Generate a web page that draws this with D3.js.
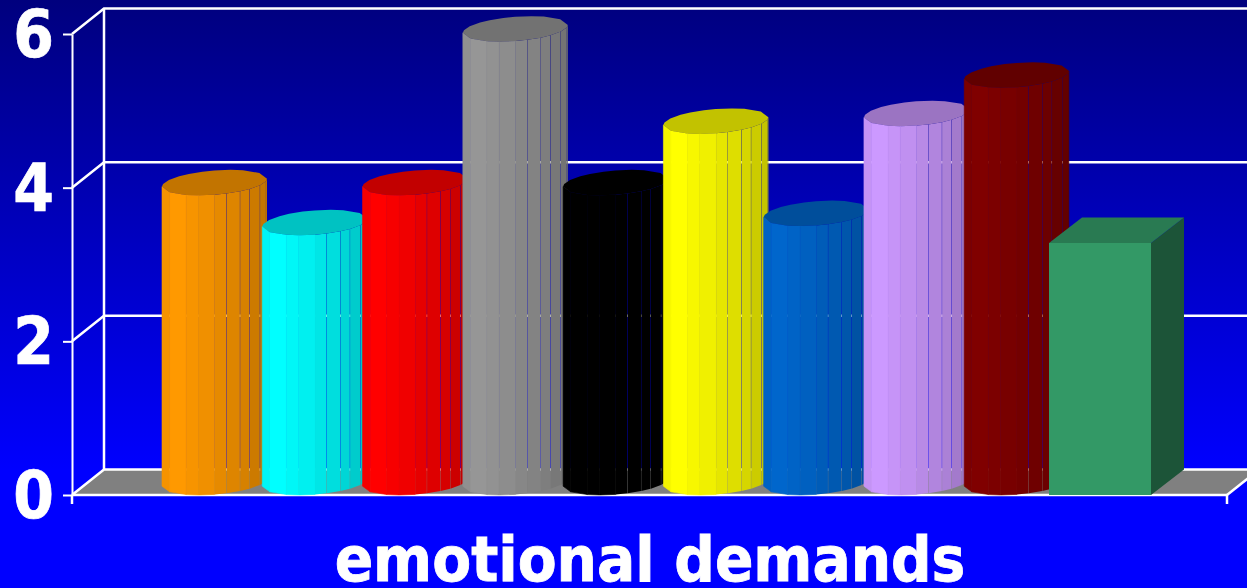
<!DOCTYPE html>
<html><head><meta charset="utf-8">
<script src="https://cdn.jsdelivr.net/npm/d3@7"></script>
<style>html,body{margin:0;padding:0;background:#00f;overflow:hidden}svg{display:block}</style>
</head><body><svg id="c" width="1247" height="588"></svg>
<script>
const categories = ["1","2","3","4","5","6","7","8","9","10"];
const values = [3.9,3.38,3.9,5.9,3.9,4.7,3.5,4.8,5.3,3.28];
const colors = ["#FF9900","#00FFFF","#FF0000","#969696","#000000","#FFFF00","#0066CC","#CC99FF","#800000","#339966"];
const shapes = ["cyl","cyl","cyl","cyl","cyl","cyl","cyl","cyl","cyl","box"];
const yTicks = [0,2,4,6];
const titleText = "emotional demands";

const W=1247,H=588, dx=32, dy=-25.5;
const FONT="'DejaVu Sans Condensed','DejaVu Sans'";
const svg=d3.select("#c");
const y=d3.scaleLinear().domain([0,6]).range([495,34]);
const x=d3.scalePoint().domain(categories).range([214.5,1117]);
const defs=svg.append("defs");
const g=defs.append("linearGradient").attr("id","bg").attr("x1",0).attr("y1",0).attr("x2",0).attr("y2",1);
g.append("stop").attr("offset",0).attr("stop-color","#00007E");
g.append("stop").attr("offset",.8).attr("stop-color","#0000FF");
svg.append("rect").attr("width",W).attr("height",H).attr("fill","url(#bg)");

const XL=72,XR=1227;
const line=d3.line();
svg.append("path").attr("d",line([[XL,y(0)],[XL+dx,y(0)+dy],[XR+dx,y(0)+dy],[XR,y(0)]])+"Z").attr("fill","#808080");

const grid=svg.append("g").attr("fill","none").attr("stroke","#fff").attr("stroke-width",2.5);
yTicks.forEach(t=>{
  grid.append("path").attr("d",line([[XL,y(t)],[XL+dx,y(t)+dy],[W+2,y(t)+dy]]));
});
grid.append("path").attr("d",line([[XL+dx,y(6)+dy],[XL+dx,y(0)+dy]]));
grid.append("path").attr("d",line([[XL,y(0)],[XR,y(0)]]));
grid.append("path").attr("d",line([[XR,y(0)],[XR+dx,y(0)+dy]]));
grid.append("path").attr("d",line([[XR,y(0)],[XR,y(0)+9]]));
grid.append("path").attr("d",line([[XL,y(0)],[XL,y(0)+9]]));

const axis=d3.axisLeft(y).tickValues(yTicks).tickSize(9).tickSizeOuter(0).tickPadding(9).tickFormat(d3.format("d"));
const ax=svg.append("g").attr("transform",`translate(${XL},0)`).call(axis);
ax.select(".domain").attr("stroke","#fff").attr("stroke-width",2);
ax.selectAll(".tick line").attr("stroke","#fff").attr("stroke-width",2);
ax.selectAll(".tick text").attr("fill","#fff").attr("dy","0.345em").attr("stroke","#fff").attr("stroke-width",.7)
  .style("font-family",FONT).style("font-weight","bold").style("font-size","65px");

const a=50, b=dx/2, c=-dy/2;
const angles=[-162,-131,-105,-90,-72,-59,-43,-30,-12,6,18];
const shades=[.96,1,.97,.94,.9,.87,.84,.8,.77,.73];
const topAngles=angles.concat(angles.slice(1,-1).map(t=>t+180));
function pt(cx,cy,deg){const r=deg*Math.PI/180;return [cx+a*Math.cos(r)+b*Math.sin(r),cy-c*Math.sin(r)];}
function shade(col,f){const q=d3.rgb(col);return d3.rgb(q.r*f,q.g*f,q.b*f).formatHex();}

const bars=svg.append("g");
categories.forEach((k,i)=>{
  const v=values[i],col=colors[i],cx=x(k),top=y(v),bot=y(0);
  const m=bars.append("g");
  if(shapes[i]==="cyl"){
    const cyT=top+dy/2, cyB=bot+dy/2;
    shades.forEach((f,j)=>{
      const t0=angles[j],t1=angles[j+1];
      const gap=(j>=4&&j<=7)?0.28:0;
      const A=pt(cx,cyT,t0),B=pt(cx,cyT,t1),C=pt(cx,cyB,t1),D=pt(cx,cyB,t0);
      B[0]-=gap;C[0]-=gap;
      const p=m.append("path").attr("fill",shade(col,f)).attr("d",line([A,B,C,D])+"Z");
      if(j<4) p.attr("stroke",shade(col,f)).attr("stroke-width",.6);
    });
    m.append("path").attr("fill",shade(col,.76))
     .attr("d",line(topAngles.map(n=>pt(cx,cyT,n)))+"Z");
  } else {
    const l=cx-17-51,r=cx-17+51,d=dx+1;
    m.append("path").attr("fill",shade(col,.55)).attr("d",line([[r,top],[r+d,top+dy],[r+d,bot+dy],[r,bot]])+"Z");
    m.append("path").attr("fill",shade(col,.8)).attr("d",line([[l,top],[l+d,top+dy],[r+d,top+dy],[r,top]])+"Z");
    m.append("path").attr("fill",col).attr("d",line([[l,top],[r,top],[r,bot],[l,bot]])+"Z");
  }
});

svg.append("text").attr("x",650).attr("y",581).attr("text-anchor","middle").attr("fill","#fff").attr("stroke","#fff").attr("stroke-width",.8)
  .style("font-family",FONT).style("font-weight","bold").style("font-size","63px").text(titleText);
</script></body></html>
